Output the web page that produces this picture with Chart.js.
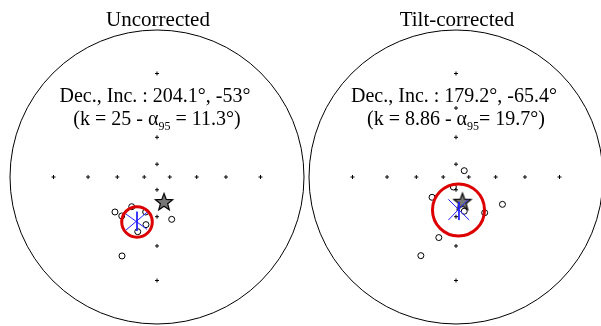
<!DOCTYPE html>
<html>
<head>
<meta charset="utf-8">
<script src="https://cdn.jsdelivr.net/npm/chart.js@4.4.0/dist/chart.umd.min.js"></script>
<style>
  html, body { margin: 0; padding: 0; background: #fff; overflow: hidden; }
  body { width: 601px; height: 326px; position: relative; }
  canvas { position: absolute; top: 0; }
  #uncorr { left: 0; }
  #tilt { left: 299px; }
</style>
</head>
<body>
<canvas id="uncorr" width="314" height="326"></canvas>
<canvas id="tilt" width="314" height="326"></canvas>
<script>
// net graduation dots (normalised radius, 1 = primitive circle)
const tickRadii = [0.087, 0.27, 0.469, 0.704];

// Uncorrected directions (projected, east / north)
const uncorrX = [-0.286, -0.240, -0.172, -0.077, -0.075, -0.131, 0.100, -0.238];
const uncorrY = [-0.238, -0.265, -0.202, -0.238, -0.324, -0.372, -0.288, -0.537];
const uncorrStar = [0.048, -0.170];
const uncorrMean = [-0.136, -0.306];
const uncorrA95 = 0.104;
const uncorrCross = [
  [-0.136, -0.236, -0.136, -0.367],
  [-0.211, -0.252, -0.068, -0.356],
  [-0.211, -0.361, -0.068, -0.240]
];

// Tilt-corrected directions
const tiltX = [0.056, -0.018, -0.163, 0.056, 0.195, 0.316, -0.117, -0.239];
const tiltY = [0.043, -0.068, -0.138, -0.233, -0.243, -0.186, -0.412, -0.535];
const tiltStar = [0.044, -0.168];
const tiltMean = [0.017, -0.224];
const tiltA95 = 0.177;
const tiltCross = [
  [0.020, -0.169, 0.020, -0.293],
  [-0.052, -0.152, 0.090, -0.293],
  [0.082, -0.153, -0.052, -0.293]
];

const R = 147; // px per unit

// filled star marker
function makeStar() {
  const c = document.createElement('canvas');
  c.width = 22; c.height = 22;
  const g = c.getContext('2d');
  g.beginPath();
  for (let i = 0; i < 10; i++) {
    const r = i % 2 === 0 ? 9 : 3.8;
    const a = -Math.PI / 2 + i * Math.PI / 5;
    const px = 11 + r * Math.cos(a), py = 11.5 + r * Math.sin(a);
    if (i === 0) g.moveTo(px, py); else g.lineTo(px, py);
  }
  g.closePath();
  g.fillStyle = '#777';
  g.fill();
  g.lineWidth = 1.2;
  g.strokeStyle = '#000';
  g.stroke();
  return c;
}
const starImg = makeStar();

function tickPoints(skipTop) {
  const pts = [];
  tickRadii.forEach(r => {
    pts.push({ x: r, y: 0 }, { x: -r, y: 0 }, { x: 0, y: -r });
    if (!(skipTop && r === 0.469)) pts.push({ x: 0, y: r });
  });
  return pts;
}

function crossPoints(segs) {
  const pts = [];
  segs.forEach(s => {
    pts.push({ x: s[0], y: s[1] }, { x: s[2], y: s[3] }, { x: NaN, y: NaN });
  });
  return pts;
}

function makeNet(id, cfg) {
  const canvas = document.getElementById(id);
  const cx = canvas.width / 2;

  const netPlugin = {
    id: 'net',
    beforeDatasetsDraw(chart) {
      const { ctx, scales } = chart;
      const x0 = scales.x.getPixelForValue(0);
      const y0 = scales.y.getPixelForValue(0);
      const rr = scales.x.getPixelForValue(1) - x0;
      ctx.save();
      ctx.beginPath();
      ctx.arc(x0, y0, rr, 0, Math.PI * 2);
      ctx.lineWidth = 1;
      ctx.strokeStyle = '#000';
      ctx.stroke();
      ctx.restore();
    },
    afterDraw(chart) {
      const ctx = chart.ctx;
      ctx.save();
      ctx.fillStyle = '#000';
      ctx.textBaseline = 'alphabetic';
      ctx.textAlign = 'left';
      const head = '21px "Liberation Serif", "Times New Roman", serif';
      const big = '20px "Liberation Serif", "Times New Roman", serif';
      const small = '12px "Liberation Serif", "Times New Roman", serif';
      ctx.font = head;
      let w = ctx.measureText(cfg.title).width;
      ctx.fillText(cfg.title, cx - w / 2 + 1, 26);
      ctx.font = big;
      w = ctx.measureText(cfg.line1).width;
      ctx.fillText(cfg.line1, cx - w / 2 - 2, 102);
      const [a, sub, b] = cfg.line2;
      const wa = ctx.measureText(a).width;
      const wb = ctx.measureText(b).width;
      ctx.font = small;
      const ws = ctx.measureText(sub).width;
      let x = cx - (wa + ws + wb) / 2;
      ctx.font = big;
      ctx.fillText(a, x, 125);
      ctx.font = small;
      ctx.fillText(sub, x + wa, 130);
      ctx.font = big;
      ctx.fillText(b, x + wa + ws, 125);
      ctx.restore();
    }
  };

  return new Chart(canvas, {
    type: 'scatter',
    data: {
      datasets: [
        {
          data: tickPoints(cfg.skipTop),
          order: 5,
          pointStyle: 'cross',
          pointRadius: 2,
          borderWidth: 1,
          borderColor: '#000'
        },
        {
          data: cfg.xs.map((v, i) => ({ x: v, y: cfg.ys[i] })),
          order: 4,
          pointStyle: 'circle',
          pointRadius: 3,
          borderWidth: 1,
          borderColor: '#000',
          backgroundColor: 'rgba(255,255,255,0)'
        },
        {
          data: [{ x: cfg.mean[0], y: cfg.mean[1] }],
          order: 3,
          pointStyle: 'circle',
          pointRadius: c => {
            const s = c.chart.scales.x;
            return s.getPixelForValue(cfg.a95) - s.getPixelForValue(0);
          },
          borderWidth: 3,
          borderColor: '#dd0000',
          backgroundColor: 'rgba(0,0,0,0)'
        },
        {
          data: [{ x: cfg.star[0], y: cfg.star[1] }],
          order: 2,
          pointStyle: starImg,
          pointRadius: 10
        },
        {
          data: crossPoints(cfg.cross),
          order: 1,
          showLine: true,
          spanGaps: false,
          pointRadius: 0,
          borderWidth: 1,
          borderColor: '#1f1fff'
        }
      ]
    },
    options: {
      responsive: false,
      animation: false,
      events: [],
      layout: { padding: 0, autoPadding: false },
      plugins: { legend: { display: false }, tooltip: { enabled: false } },
      scales: {
        x: { type: 'linear', display: false, min: -cx / R, max: cx / R },
        y: { type: 'linear', display: false, min: -149 / R, max: 177 / R }
      }
    },
    plugins: [netPlugin]
  });
}

makeNet('uncorr', {
  title: 'Uncorrected',
  line1: 'Dec., Inc. : 204.1°, -53°',
  line2: ['(k = 25 - α', '95', ' = 11.3°)'],
  xs: uncorrX, ys: uncorrY,
  star: uncorrStar, mean: uncorrMean, a95: uncorrA95, cross: uncorrCross,
  skipTop: true
});

makeNet('tilt', {
  title: 'Tilt-corrected',
  line1: 'Dec., Inc. : 179.2°, -65.4°',
  line2: ['(k = 8.86 - α', '95', '= 19.7°)'],
  xs: tiltX, ys: tiltY,
  star: tiltStar, mean: tiltMean, a95: tiltA95, cross: tiltCross,
  skipTop: false
});
</script>
</body>
</html>
